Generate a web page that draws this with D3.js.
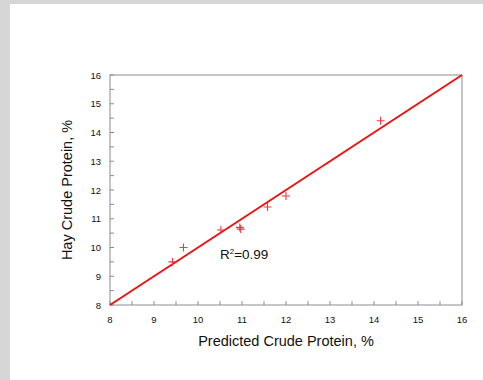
<!DOCTYPE html>
<html>
<head>
<meta charset="utf-8">
<script src="https://cdn.jsdelivr.net/npm/d3@7"></script>
<style>
  html, body { margin: 0; padding: 0; background: #fff; }
  svg { display: block; }
</style>
</head>
<body>
<svg id="chart"></svg>
<script>
// observed vs predicted crude protein, %
const predicted = [9.42, 9.67, 10.52, 10.95, 10.97, 11.58, 12.0, 14.15];
const hay = [9.50, 10.00, 10.61, 10.70, 10.64, 11.41, 11.79, 14.41];
const xTicks = [8, 9, 10, 11, 12, 13, 14, 15, 16];
const yTicks = [8, 9, 10, 11, 12, 13, 14, 15, 16];
const fitLine = [[8, 8], [16, 16]];
const r2Label = { x: 10.5, y: 9.6, text: "0.99" };

const W = 483, H = 380;
const margin = { top: 75, right: 21, bottom: 75, left: 110 };

const svg = d3.select("#chart").attr("width", W).attr("height", H);

// textured page border (left + top)
svg.append("rect").attr("x", 0).attr("y", 0).attr("width", W).attr("height", H).attr("fill", "#d6d6d6");
svg.append("rect").attr("x", 10).attr("y", 4).attr("width", W - 10).attr("height", H - 4).attr("fill", "#fff");

const x = d3.scaleLinear().domain([8, 16]).range([margin.left, W - margin.right]);
const y = d3.scaleLinear().domain([8, 16]).range([H - margin.bottom, margin.top]);

const axisColor = "#8c8c8c";
const minor = d3.range(8, 16.01, 0.5);

// frame
svg.append("rect")
    .attr("x", x(8)).attr("y", y(16))
    .attr("width", x(16) - x(8)).attr("height", y(8) - y(16))
    .attr("fill", "none").attr("stroke", axisColor).attr("stroke-width", 1);

// ticks pointing inward
svg.append("g").selectAll("line").data(minor).join("line")
    .attr("x1", d => x(d)).attr("x2", d => x(d))
    .attr("y1", y(8)).attr("y2", y(8) - 4)
    .attr("stroke", axisColor);
svg.append("g").selectAll("line").data(minor).join("line")
    .attr("y1", d => y(d)).attr("y2", d => y(d))
    .attr("x1", x(8)).attr("x2", x(8) + 4)
    .attr("stroke", axisColor);

const font = "'Liberation Sans', Arial, sans-serif";

svg.append("g")
    .attr("font-family", font).attr("font-size", 9.5).attr("fill", "#111")
    .attr("text-anchor", "middle")
    .selectAll("text").data(xTicks).join("text")
    .attr("x", d => x(d)).attr("y", y(8) + 18)
    .text(d => d);

svg.append("g")
    .attr("font-family", font).attr("font-size", 9.5).attr("fill", "#111")
    .attr("text-anchor", "end")
    .selectAll("text").data(yTicks).join("text")
    .attr("x", x(8) - 9).attr("y", d => y(d) + 3.5)
    .text(d => d);

// axis titles
svg.append("text")
    .attr("x", (x(8) + x(16)) / 2).attr("y", 346)
    .attr("text-anchor", "middle")
    .attr("font-family", font).attr("font-size", 14.5).attr("fill", "#111")
    .text("Predicted Crude Protein, %");

svg.append("text")
    .attr("transform", `translate(72, ${(y(8) + y(16)) / 2}) rotate(-90)`)
    .attr("text-anchor", "middle")
    .attr("font-family", font).attr("font-size", 14.5).attr("fill", "#111")
    .text("Hay Crude Protein, %");

// 1:1 fit line
svg.append("path")
    .datum(fitLine)
    .attr("d", d3.line().x(d => x(d[0])).y(d => y(d[1])))
    .attr("fill", "none").attr("stroke", "#ee1111").attr("stroke-width", 2);

// plus markers
const pts = predicted.map((p, i) => [p, hay[i]]);
svg.append("g")
    .attr("stroke", "#ff3344").attr("stroke-width", 1.1)
    .selectAll("path").data(pts).join("path")
    .attr("d", d => `M${x(d[0]) - 4},${y(d[1])}h8M${x(d[0])},${y(d[1]) - 4}v8`);

// R² annotation
const r2 = svg.append("text")
    .attr("x", x(r2Label.x)).attr("y", y(r2Label.y))
    .attr("font-family", font).attr("font-size", 13.5).attr("fill", "#111");
r2.append("tspan").text("R");
r2.append("tspan").attr("font-size", 8).attr("dy", -5).text("2");
r2.append("tspan").attr("dy", 5).text("=" + r2Label.text);
</script>
</body>
</html>
